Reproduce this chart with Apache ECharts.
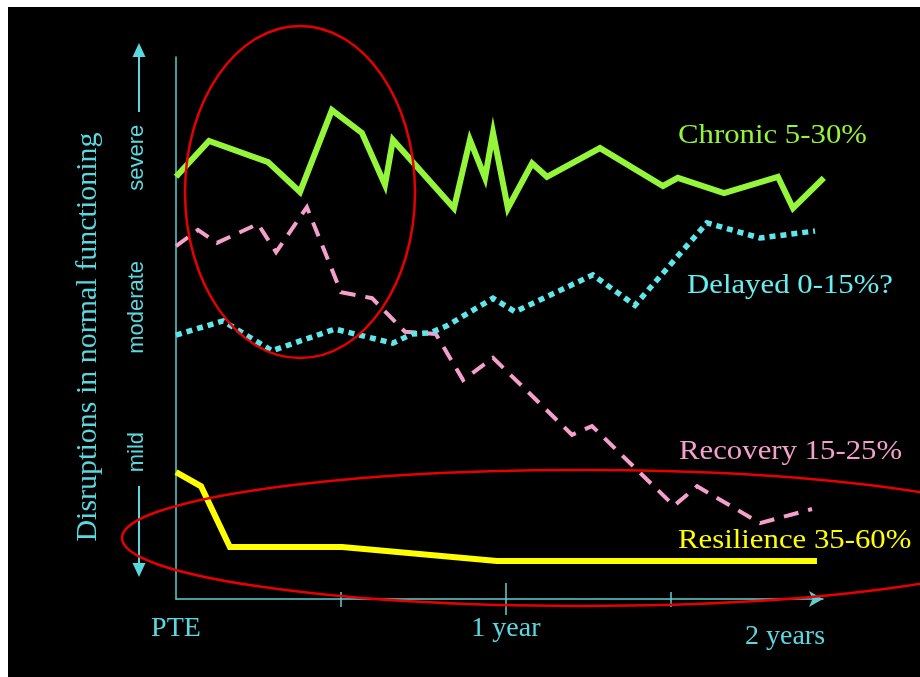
<!DOCTYPE html>
<html><head><meta charset="utf-8">
<script src="https://cdn.jsdelivr.net/npm/echarts@6/dist/echarts.min.js"></script>
<style>
html,body{margin:0;padding:0;background:#fff;width:920px;height:677px;overflow:hidden}
#c{position:absolute;left:8px;top:7px;width:912px;height:670px}
</style></head>
<body><div id="c"></div>
<script>
// ---- data (x in months after the event, y = disruption level 0..100) ----
const chronicX = [0,1.2,3.35,4.51,5.67,6.76,7.6,7.89,10.11,10.69,11.24,11.53,12.07,12.95,13.49,15.42,17.71,18.25,19.93,21.89,22.44,23.56];
const chronicY = [77.9,84.5,80.6,75.1,90.2,86.0,76.4,84.7,72.1,84.7,77.7,86.0,72.1,80.4,77.9,83.2,76.2,77.7,74.9,77.9,72.1,77.7];
const delayedX = [0,1.71,3.49,5.78,7.89,8.58,9.24,9.85,11.53,12.33,15.16,16.69,19.31,21.24,23.24];
const delayedY = [48.7,51.3,45.8,49.8,47.2,48.9,49.1,50.4,55.5,53.0,59.8,54.2,69.4,66.6,67.9];
const recoveryX = [0,0.8,1.49,2.98,3.64,4.76,6.0,7.13,8.33,9.45,10.44,11.53,14.4,15.13,18.11,18.95,21.24,23.13];
const recoveryY = [65.1,68.1,65.7,69.2,64.0,72.3,56.6,55.5,49.3,48.9,40.4,44.5,30.3,31.9,17.2,20.8,14.0,16.6];
const resilienceX = [0,0.91,1.96,6.04,11.67,23.31];
const resilienceY = [23.4,20.8,9.6,9.6,7.0,7.0];

const seriesNames = ['Chronic 5-30%','Delayed 0-15%?','Recovery 15-25%','Resilience 35-60%'];
const xHalfYearTicks = [6, 18];
const xYearTicks = [12];
const xLabelValues = [0, 12];
const xLabelNames = ['PTE', '1 year'];
const xEndLabel = '2 years';
const yLevelValues = [27.1, 53.8, 81.4];
const yLevelNames = ['mild', 'moderate', 'severe'];
const yTitle = 'Disruptions in normal functioning';

const pairs = (xs, ys) => xs.map((x, i) => [x, ys[i]]);

const AX = '#5fcfd2';
const TXT = '#5ad8e0';
const SERIF = '"Liberation Serif","Times New Roman",serif';
const SANS = '"Liberation Sans",Arial,sans-serif';
const XMAX = 23.53;

const gridBox = {left: 168, top: 50, right: 97, bottom: 78};
const grids = [0,1,2,3].map(() => Object.assign({}, gridBox));

function tickAxis(idx, values, inside, len) {
  return {
    type: 'value', gridIndex: idx, min: 0, max: XMAX, position: 'bottom',
    axisLine: {show: false}, splitLine: {show: false}, axisLabel: {show: false},
    axisTick: {show: true, inside: inside, length: len, customValues: values,
      lineStyle: {color: AX, width: 1.5}}
  };
}
const hiddenY = idx => ({type: 'value', gridIndex: idx, min: 0, max: 100, show: false});

const chart = echarts.init(document.getElementById('c'));
chart.setOption({
  backgroundColor: '#000',
  animation: false,
  grid: grids,
  xAxis: [
    {
      type: 'value', gridIndex: 0, min: 0, max: XMAX, position: 'bottom',
      axisLine: {show: true, symbol: ['none', 'arrow'], symbolSize: [12, 14],
        lineStyle: {color: AX, width: 1.5}},
      axisTick: {show: true, inside: true, length: 7, customValues: xHalfYearTicks,
        lineStyle: {color: AX, width: 1.5}},
      splitLine: {show: false},
      axisLabel: {show: true, customValues: xLabelValues, margin: 16,
        color: TXT, fontFamily: SERIF, fontSize: 28,
        formatter: v => { const i = xLabelValues.indexOf(v); return i >= 0 ? xLabelNames[i] : ''; }},
      name: xEndLabel, nameLocation: 'end', nameGap: -38,
      nameTextStyle: {color: TXT, fontFamily: SERIF, fontSize: 28, align: 'center',
        verticalAlign: 'top', padding: [24, 0, 0, 0]}
    },
    tickAxis(1, xHalfYearTicks, false, 8),
    tickAxis(2, xYearTicks, true, 16),
    tickAxis(3, xYearTicks, false, 16)
  ],
  yAxis: [
    {
      type: 'value', gridIndex: 0, min: 0, max: 100,
      axisLine: {show: true, lineStyle: {color: AX, width: 1.5}},
      axisTick: {show: false}, splitLine: {show: false},
      axisLabel: {show: true, customValues: yLevelValues, rotate: 90, margin: 28,
        color: TXT, fontFamily: SANS, fontSize: 22,
        formatter: v => { const i = yLevelValues.indexOf(v); return i >= 0 ? yLevelNames[i] : ''; }},
      name: yTitle, nameLocation: 'middle', nameRotate: 90, nameGap: 73,
      nameTextStyle: {color: TXT, fontFamily: SERIF, fontSize: 30, padding: [0, 18, 0, 0]}
    },
    hiddenY(1), hiddenY(2), hiddenY(3)
  ],
  series: [
    {name: seriesNames[3], type: 'line', data: pairs(resilienceX, resilienceY), showSymbol: false,
      clip: false, lineStyle: {color: '#ffff00', width: 6, join: 'miter'}, z: 2},
    {name: seriesNames[2], type: 'line', data: pairs(recoveryX, recoveryY), showSymbol: false,
      clip: false, lineStyle: {color: '#f5a0cc', width: 4, type: [15, 10], cap: 'butt', join: 'miter'}, z: 3},
    {name: seriesNames[1], type: 'line', data: pairs(delayedX, delayedY), showSymbol: false,
      clip: false, lineStyle: {color: '#5ee6ea', width: 5.5, type: [6, 5], cap: 'butt', join: 'miter'}, z: 4},
    {name: seriesNames[0], type: 'line', data: pairs(chronicX, chronicY), showSymbol: false,
      clip: false, lineStyle: {color: '#95f53a', width: 6, join: 'miter'}, z: 5}
  ],
  graphic: {
    elements: [
      // severity arrows beside the y axis
      {type: 'line', z: 100, shape: {x1: 131, y1: 48, x2: 131, y2: 105}, style: {stroke: TXT, lineWidth: 2}},
      {type: 'polygon', z: 100, shape: {points: [[131, 36], [124.5, 50], [137.5, 50]]}, style: {fill: TXT}},
      {type: 'line', z: 100, shape: {x1: 131, y1: 479, x2: 131, y2: 558}, style: {stroke: TXT, lineWidth: 2}},
      {type: 'polygon', z: 100, shape: {points: [[131, 570], [124.5, 556], [137.5, 556]]}, style: {fill: TXT}},
      // red highlight ellipses
      {type: 'ellipse', z: 100, shape: {cx: 292, cy: 185, rx: 115, ry: 166},
        style: {fill: 'none', stroke: '#e60000', lineWidth: 2.5}},
      {type: 'ellipse', z: 100, shape: {cx: 573, cy: 531, rx: 459, ry: 68},
        style: {fill: 'none', stroke: '#e60000', lineWidth: 2.5}},
      // series labels
      {type: 'text', z: 100, x: 670, y: 128.5, scaleX: 1.14,
        style: {text: seriesNames[0], fill: '#95f53a', font: '27px ' + SERIF, textAlign: 'left', textVerticalAlign: 'middle'}},
      {type: 'text', z: 100, x: 679, y: 278.5, scaleX: 1.14,
        style: {text: seriesNames[1], fill: '#66eef2', font: '27px ' + SERIF, textAlign: 'left', textVerticalAlign: 'middle'}},
      {type: 'text', z: 100, x: 671, y: 444.5, scaleX: 1.14,
        style: {text: seriesNames[2], fill: '#f5a0cc', font: '27px ' + SERIF, textAlign: 'left', textVerticalAlign: 'middle'}},
      {type: 'text', z: 100, x: 670, y: 533.5, scaleX: 1.14,
        style: {text: seriesNames[3], fill: '#ffff00', font: '27px ' + SERIF, textAlign: 'left', textVerticalAlign: 'middle'}}
    ]
  }
});
</script>
</body></html>
